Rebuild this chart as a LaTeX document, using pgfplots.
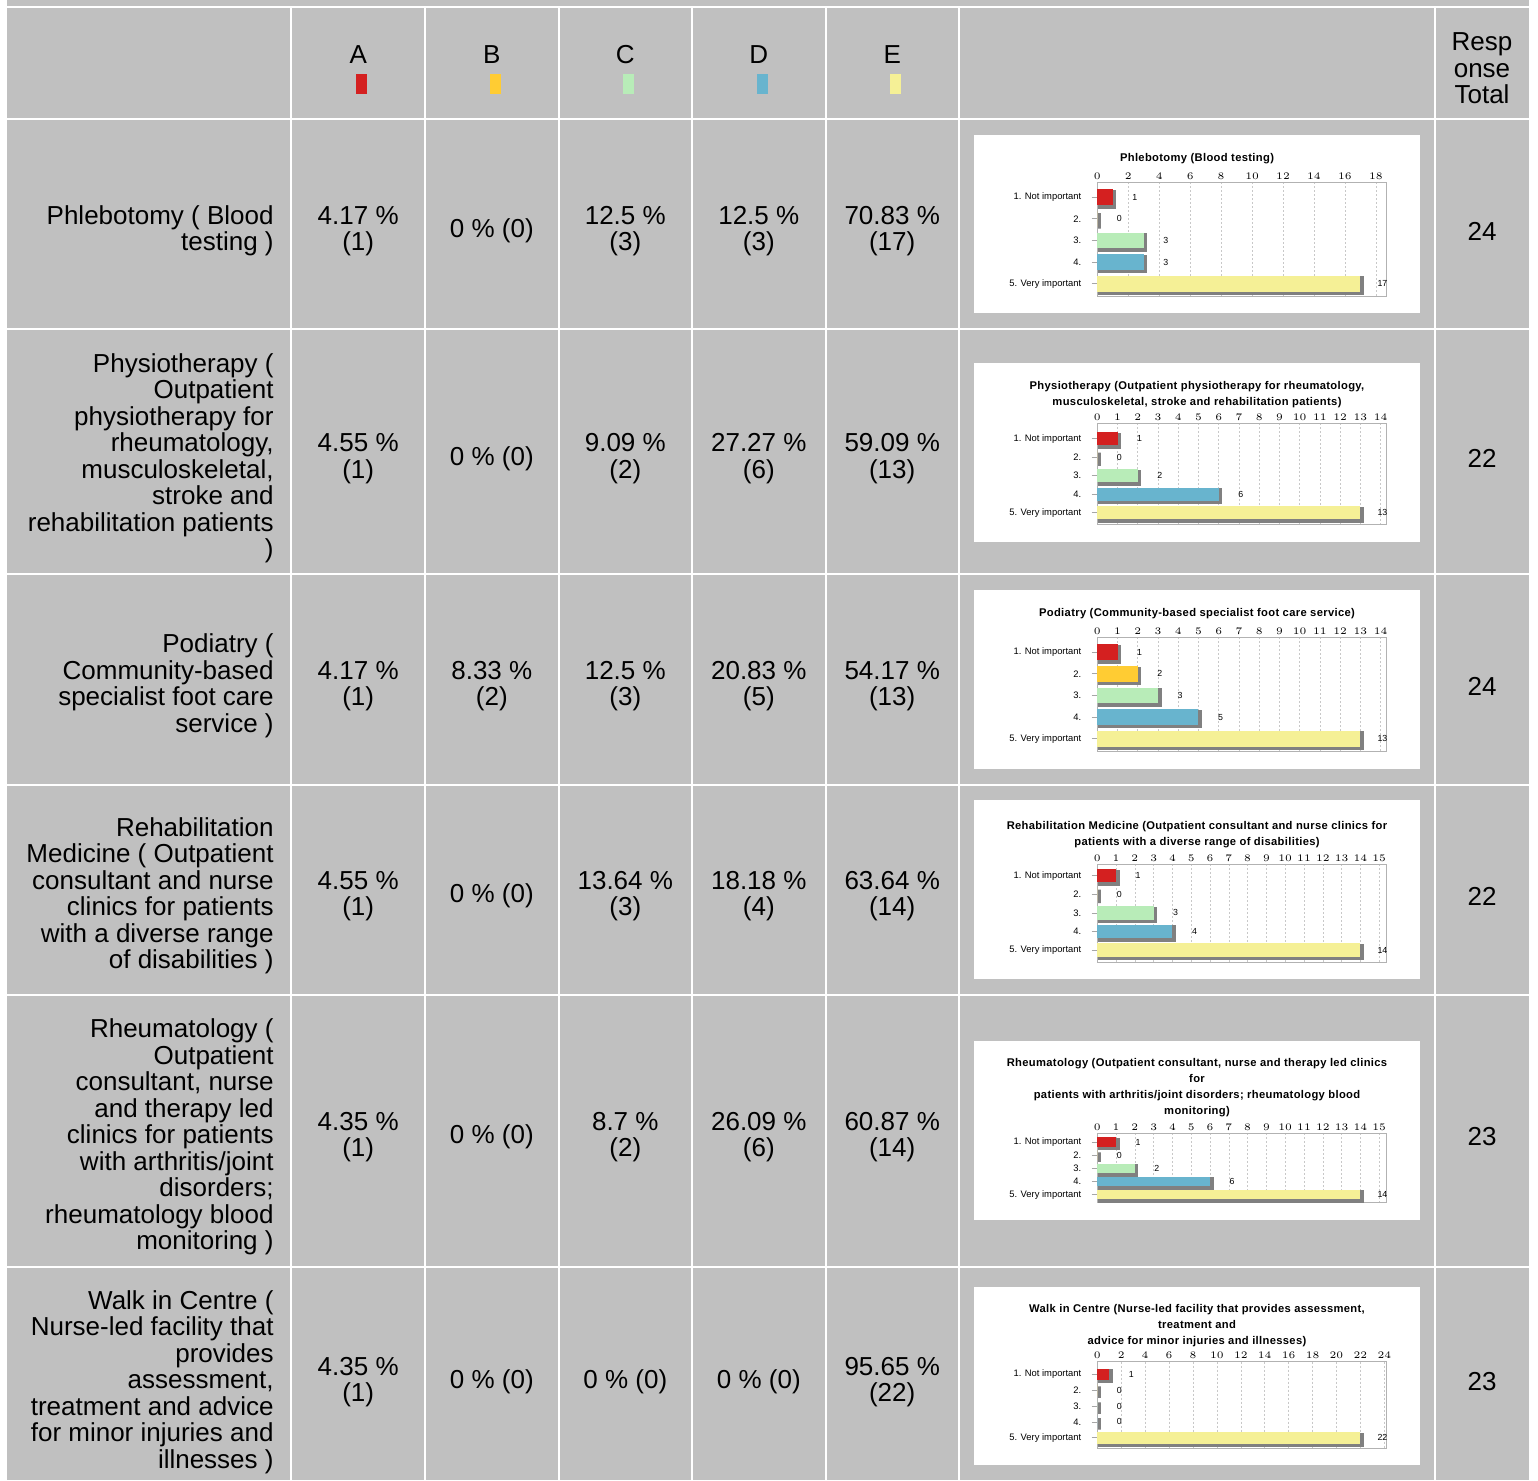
\documentclass[border=0pt]{standalone}
\usepackage{pgfplots}
\pgfplotsset{compat=1.18}
\usepackage{fontspec}
\setmainfont{Liberation Sans}
\newfontfamily\titlefont[LetterSpace=3]{Liberation Sans}
\definecolor{cellgray}{RGB}{192,192,192}
\definecolor{cA}{RGB}{212,32,32}
\definecolor{cB}{RGB}{255,204,51}
\definecolor{cC}{RGB}{184,236,184}
\definecolor{cD}{RGB}{104,180,206}
\definecolor{cE}{RGB}{245,240,150}
\definecolor{shadowgray}{RGB}{128,128,128}
\definecolor{gridgray}{RGB}{200,200,200}
\newcommand\tf{\fontsize{13}{13.25}\selectfont}

\pgfplotsset{
 mini/.style={
  scale only axis, width=144.7pt, anchor=north west, clip=false,
  xmin=0, y dir=reverse,
  axis line style={draw=gray!60, line width=0.5pt},
  xticklabel pos=upper,
  xtick style={draw=none},
  xmajorgrids, major grid style={gridgray, dash pattern=on 1pt off 1pt, line width=0.3pt},
  ytick={1,2,3,4,5},
  yticklabels={1. Not important,2.,3.,4.,5. Very important},
  ytick pos=left, tick align=outside, major tick length=2.8pt,
  ytick style={draw=gray!70, line width=0.4pt},
  yticklabel style={font=\fontsize{4.7}{5}\selectfont, inner sep=0pt, xshift=-5pt},
  xticklabel style={font=\fontsize{4.8}{5}\selectfont, inner sep=0pt, yshift=-1.5pt},
  title style={font=\fontsize{5.6}{8}\selectfont\titlefont\bfseries, align=center, at={(0.3445,1)}, anchor=center},
  xbar, bar width=0.72, bar shift=0pt,
 },
 sh/.style={fill=shadowgray, draw=shadowgray, line width=1.5pt, xshift=1pt, yshift=-1pt},
 br/.style={draw=none, point meta=x,
   nodes near coords={\pgfmathprintnumber[assume math mode=true]{\pgfplotspointmeta}},
   every node near coord/.append style={font=\fontsize{4.4}{5}\selectfont, anchor=center, xshift=11pt, text=black}},
}

\begin{document}
\begin{tikzpicture}
\begin{scope}[x=0.5pt,y=-0.5pt]
\fill[white] (0,0) rectangle (1538,1480);
\fill[cellgray] (7,0) rectangle (1529,1480);
\foreach \yy in {7,119,329.5,574.5,784.5,994.5,1266.5}
  \draw[white, line width=1pt] (7,\yy) -- (1529,\yy);
\foreach \xx in {291.3,425,558.5,692,825.5,958.5,1434.5}
  \draw[white, line width=1pt] (\xx,7) -- (\xx,1480);
% white chart boxes
\foreach \ya/\yb in {135/313, 363.3/541.7, 590/769, 800/979, 1041/1220, 1286.7/1465}
  \fill[white] (974,\ya) rectangle (1420,\yb);
% header
\node[anchor=base, font=\tf] at (358.2,64) {A};
\node[anchor=base, font=\tf] at (491.8,64) {B};
\node[anchor=base, font=\tf] at (625.3,64) {C};
\node[anchor=base, font=\tf] at (758.8,64) {D};
\node[anchor=base, font=\tf] at (892.2,64) {E};
\fill[cA] (356.2,74) rectangle (367.2,94);
\fill[cB] (489.8,74) rectangle (500.8,94);
\fill[cC] (623.3,74) rectangle (634.3,94);
\fill[cD] (756.8,74) rectangle (767.8,94);
\fill[cE] (890.2,74) rectangle (901.2,94);
\node[align=center, font=\tf] at (1482,68.5) {Resp\\onse\\Total};
% row labels
\begin{scope}[every node/.style={anchor=east, align=right, font=\tf, inner sep=0pt}]
\node at (274,231) {Phlebotomy ( Blood\\testing )};
\node at (274,458.5) {Physiotherapy (\\Outpatient\\physiotherapy for\\rheumatology,\\musculoskeletal,\\stroke and\\rehabilitation patients\\)};
\node at (274,686) {Podiatry (\\Community-based\\specialist foot care\\service )};
\node at (274,896) {Rehabilitation\\Medicine ( Outpatient\\consultant and nurse\\clinics for patients\\with a diverse range\\of disabilities )};
\node at (274,1137) {Rheumatology (\\Outpatient\\consultant, nurse\\and therapy led\\clinics for patients\\with arthritis/joint\\disorders;\\rheumatology blood\\monitoring )};
\node at (274,1382) {Walk in Centre (\\Nurse-led facility that\\provides\\assessment,\\treatment and advice\\for minor injuries and\\illnesses )};
\end{scope}
% percentages
\foreach \yy/\a/\b/\c/\d/\e/\t in {
  231/{4.17 \%\\(1)}/{0 \% (0)}/{12.5 \%\\(3)}/{12.5 \%\\(3)}/{70.83 \%\\(17)}/24,
  458.5/{4.55 \%\\(1)}/{0 \% (0)}/{9.09 \%\\(2)}/{27.27 \%\\(6)}/{59.09 \%\\(13)}/22,
  686/{4.17 \%\\(1)}/{8.33 \%\\(2)}/{12.5 \%\\(3)}/{20.83 \%\\(5)}/{54.17 \%\\(13)}/24,
  896/{4.55 \%\\(1)}/{0 \% (0)}/{13.64 \%\\(3)}/{18.18 \%\\(4)}/{63.64 \%\\(14)}/22,
  1137/{4.35 \%\\(1)}/{0 \% (0)}/{8.7 \%\\(2)}/{26.09 \%\\(6)}/{60.87 \%\\(14)}/23,
  1382/{4.35 \%\\(1)}/{0 \% (0)}/{0 \% (0)}/{0 \% (0)}/{95.65 \%\\(22)}/23}{
  \node[align=center, font=\tf] at (358.2,\yy) {\a};
  \node[align=center, font=\tf] at (491.8,\yy) {\b};
  \node[align=center, font=\tf] at (625.3,\yy) {\c};
  \node[align=center, font=\tf] at (758.8,\yy) {\d};
  \node[align=center, font=\tf] at (892.2,\yy) {\e};
  \node[align=center, font=\tf] at (1482,\yy) {\t};
}
\end{scope}

% ---- chart 1
\begin{axis}[mini, at={(548.65pt,-91.15pt)}, height=57.2pt, xmax=18.7, ymin=0.31, ymax=5.6,
  xtick={0,2,...,18}, title={Phlebotomy (Blood testing)}, title style={yshift=5.65pt}]
\addplot[sh] coordinates {(1,1) (0,2) (3,3) (3,4) (17,5)};
\addplot[br, fill=cA] coordinates {(1,1)};
\addplot[br, fill=cB] coordinates {(0,2)};
\addplot[br, fill=cC] coordinates {(3,3)};
\addplot[br, fill=cD] coordinates {(3,4)};
\addplot[br, fill=cE] coordinates {(17,5)};
\end{axis}
% ---- chart 2
\begin{axis}[mini, at={(548.65pt,-211.65pt)}, height=50.85pt, xmax=14.3, ymin=0.17, ymax=5.66,
  xtick={0,1,...,14}, title={Physiotherapy (Outpatient physiotherapy for rheumatology,\\musculoskeletal, stroke and rehabilitation patients)}, title style={yshift=8.15pt}]
\addplot[sh] coordinates {(1,1) (0,2) (2,3) (6,4) (13,5)};
\addplot[br, fill=cA] coordinates {(1,1)};
\addplot[br, fill=cB] coordinates {(0,2)};
\addplot[br, fill=cC] coordinates {(2,3)};
\addplot[br, fill=cD] coordinates {(6,4)};
\addplot[br, fill=cE] coordinates {(13,5)};
\end{axis}
% ---- chart 3
\begin{axis}[mini, at={(548.65pt,-318.65pt)}, height=57.2pt, xmax=14.3, ymin=0.31, ymax=5.6,
  xtick={0,1,...,14}, title={Podiatry (Community-based specialist foot care service)}, title style={yshift=5.8pt}]
\addplot[sh] coordinates {(1,1) (2,2) (3,3) (5,4) (13,5)};
\addplot[br, fill=cA] coordinates {(1,1)};
\addplot[br, fill=cB] coordinates {(2,2)};
\addplot[br, fill=cC] coordinates {(3,3)};
\addplot[br, fill=cD] coordinates {(5,4)};
\addplot[br, fill=cE] coordinates {(13,5)};
\end{axis}
% ---- chart 4
\begin{axis}[mini, at={(548.65pt,-432pt)}, height=49.15pt, xmax=15.4, ymin=0.37, ymax=5.65,
  xtick={0,1,...,15}, title={Rehabilitation Medicine (Outpatient consultant and nurse clinics for\\patients with a diverse range of disabilities)}, title style={yshift=8.85pt}]
\addplot[sh] coordinates {(1,1) (0,2) (3,3) (4,4) (14,5)};
\addplot[br, fill=cA] coordinates {(1,1)};
\addplot[br, fill=cB] coordinates {(0,2)};
\addplot[br, fill=cC] coordinates {(3,3)};
\addplot[br, fill=cD] coordinates {(4,4)};
\addplot[br, fill=cE] coordinates {(14,5)};
\end{axis}
% ---- chart 5
\begin{axis}[mini, at={(548.65pt,-566.65pt)}, height=34.7pt, xmax=15.4, ymin=0.34, ymax=5.61,
  xtick={0,1,...,15}, title={Rheumatology (Outpatient consultant, nurse and therapy led clinics\\for\\patients with arthritis/joint disorders; rheumatology blood\\monitoring)}, title style={yshift=16.75pt}]
\addplot[sh] coordinates {(1,1) (0,2) (2,3) (6,4) (14,5)};
\addplot[br, fill=cA] coordinates {(1,1)};
\addplot[br, fill=cB] coordinates {(0,2)};
\addplot[br, fill=cC] coordinates {(2,3)};
\addplot[br, fill=cD] coordinates {(6,4)};
\addplot[br, fill=cE] coordinates {(14,5)};
\end{axis}
% ---- chart 6
\begin{axis}[mini, at={(548.65pt,-680.85pt)}, height=43.3pt, xmax=24.2, ymin=0.21, ymax=5.66,
  xtick={0,2,...,24}, title={Walk in Centre (Nurse-led facility that provides assessment,\\treatment and\\advice for minor injuries and illnesses)}, title style={yshift=11.85pt}]
\addplot[sh] coordinates {(1,1) (0,2) (0,3) (0,4) (22,5)};
\addplot[br, fill=cA] coordinates {(1,1)};
\addplot[br, fill=cB] coordinates {(0,2)};
\addplot[br, fill=cC] coordinates {(0,3)};
\addplot[br, fill=cD] coordinates {(0,4)};
\addplot[br, fill=cE] coordinates {(22,5)};
\end{axis}
\end{tikzpicture}
\end{document}
